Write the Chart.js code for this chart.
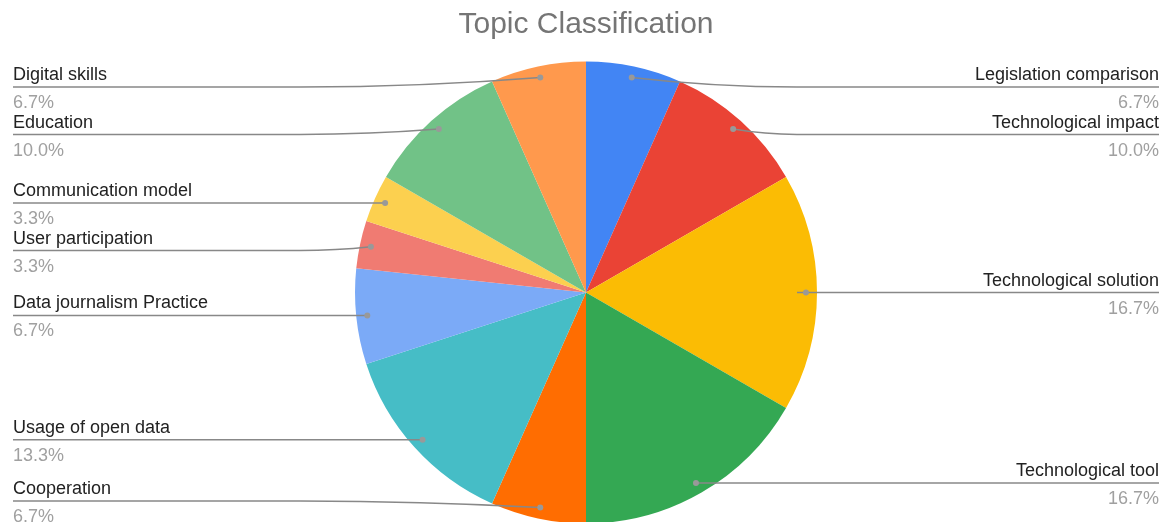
<!DOCTYPE html>
<html>
<head>
<meta charset="utf-8">
<title>Topic Classification</title>
<script src="https://cdn.jsdelivr.net/npm/chart.js@4.4.1/dist/chart.umd.min.js"></script>
<style>
    html, body { margin: 0; padding: 0; background: #fff; }
    #wrap { width: 1164px; height: 522px; position: relative; }
</style>
</head>
<body>
<div id="wrap"><canvas id="topicChart"></canvas></div>
<script>
const categories = [
    'Legislation comparison', 'Technological impact', 'Technological solution',
    'Technological tool', 'Cooperation', 'Usage of open data',
    'Data journalism Practice', 'User participation', 'Communication model',
    'Education', 'Digital skills'
];
const paperCounts = [2, 3, 5, 5, 2, 4, 2, 1, 1, 3, 2];
const sliceColors = [
    '#4285F4', '#EA4335', '#FBBC04', '#34A853', '#FF6D01', '#46BDC6',
    '#7BAAF7', '#F07B72', '#FCD04F', '#71C287', '#FF994D'
];

const FONT = '"Liberation Sans", Arial, sans-serif';

// Side labels with leader lines, Google Sheets style
const sideLabels = {
    id: 'sideLabels',
    afterDatasetsDraw(chart) {
        const ctx = chart.ctx;
        const meta = chart.getDatasetMeta(0);
        const data = chart.data.datasets[0].data;
        const total = data.reduce((a, b) => a + b, 0);
        const W = chart.width;
        const topY = 87, bottomY = 501, gap = 47.5;
        const left = [], right = [];

        meta.data.forEach((arc, i) => {
            const mid = (arc.startAngle + arc.endAngle) / 2;
            const r = arc.outerRadius * 0.952;
            const item = {
                i,
                dx: arc.x + Math.cos(mid) * r,
                dy: arc.y + Math.sin(mid) * r,
                cx: arc.x
            };
            (Math.cos(mid) >= 0 ? right : left).push(item);
        });

        // keep labels inside the canvas and apart from each other
        [left, right].forEach(list => {
            list.sort((a, b) => a.dy - b.dy);
            let prev = -Infinity;
            list.forEach(it => {
                it.y = Math.max(it.dy, topY, prev + gap);
                prev = it.y;
            });
            let next = Infinity;
            for (let k = list.length - 1; k >= 0; k--) {
                list[k].y = Math.min(list[k].y, bottomY, next - gap);
                next = list[k].y;
            }
        });

        ctx.save();
        const drawOne = (it, isRight) => {
            const textX = isRight ? W - 5 : 13;
            const elbowX = isRight ? it.cx + 211 : it.cx - 286;

            ctx.strokeStyle = '#888888';
            ctx.lineWidth = 1.5;
            ctx.beginPath();
            ctx.moveTo(textX, it.y);
            ctx.lineTo(elbowX, it.y);
            ctx.quadraticCurveTo((elbowX + it.dx) / 2, it.y, it.dx, it.dy);
            ctx.stroke();

            ctx.fillStyle = '#999999';
            ctx.beginPath();
            ctx.arc(it.dx, it.dy, 3, 0, Math.PI * 2);
            ctx.fill();

            ctx.textAlign = isRight ? 'right' : 'left';
            ctx.textBaseline = 'alphabetic';
            ctx.font = '18px ' + FONT;
            ctx.fillStyle = '#222222';
            ctx.fillText(chart.data.labels[it.i], textX, it.y - 7);
            ctx.fillStyle = '#a0a0a0';
            const pct = (data[it.i] / total * 100).toFixed(1) + '%';
            ctx.fillText(pct, textX, it.y + 21);
        };
        left.forEach(it => drawOne(it, false));
        right.forEach(it => drawOne(it, true));
        ctx.restore();
    }
};

const ctx = document.getElementById('topicChart');
new Chart(ctx.getContext('2d'), {
    type: 'pie',
    data: {
        labels: categories,
        datasets: [{
            data: paperCounts,
            backgroundColor: sliceColors,
            borderWidth: 0,
            radius: 231
        }]
    },
    options: {
        responsive: true,
        maintainAspectRatio: false,
        animation: false,
        layout: { padding: { left: 8, right: 0, top: 0, bottom: 0 } },
        plugins: {
            legend: { display: false },
            tooltip: { enabled: false },
            title: {
                display: true,
                text: 'Topic Classification',
                color: '#757575',
                font: { family: FONT, size: 30, weight: 'normal' },
                padding: { top: 7, bottom: 20 }
            }
        }
    },
    plugins: [sideLabels]
});
</script>
</body>
</html>
